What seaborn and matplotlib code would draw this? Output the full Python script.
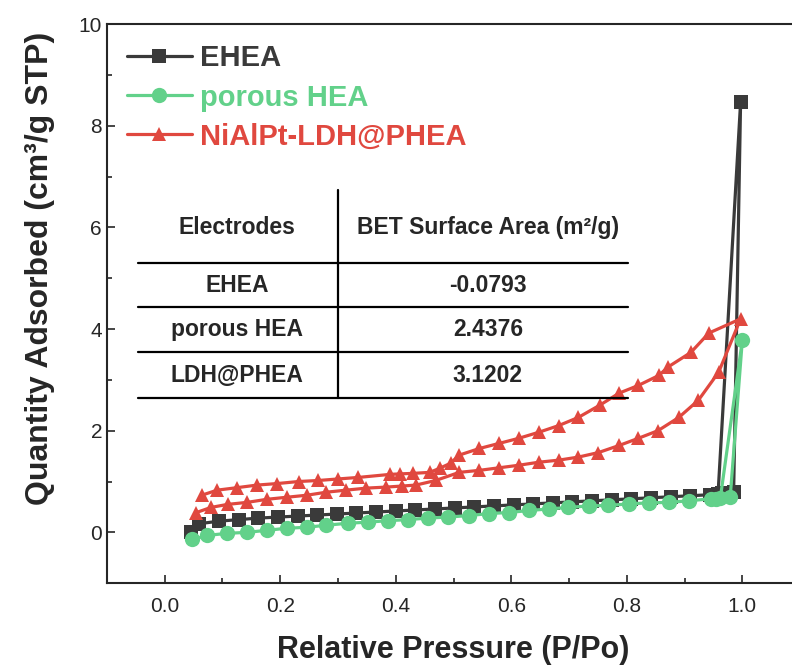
import numpy as np
import pandas as pd
import matplotlib
matplotlib.use("Agg")
import matplotlib.pyplot as plt
from matplotlib.ticker import MultipleLocator
import seaborn as sns

# --- datos ---
ehea_x = [0.045, 0.06, 0.094, 0.128, 0.162, 0.196, 0.23, 0.264, 0.298, 0.332,
          0.366, 0.40, 0.434, 0.468, 0.502, 0.536, 0.57, 0.604, 0.638, 0.672,
          0.706, 0.74, 0.774, 0.808, 0.842, 0.876, 0.91, 0.944, 0.958, 0.997,
          0.985, 0.965]
ehea_y = [0.0, 0.17, 0.22, 0.25, 0.28, 0.30, 0.32, 0.34, 0.36, 0.38,
          0.40, 0.42, 0.44, 0.46, 0.48, 0.50, 0.52, 0.54, 0.56, 0.58,
          0.60, 0.62, 0.64, 0.66, 0.68, 0.70, 0.72, 0.74, 0.76, 8.46,
          0.80, 0.78]

phea_x = [0.048, 0.074, 0.108, 0.143, 0.177, 0.211, 0.246, 0.28, 0.318, 0.352,
          0.387, 0.421, 0.455, 0.49, 0.527, 0.562, 0.596, 0.631, 0.665, 0.699,
          0.734, 0.768, 0.804, 0.838, 0.873, 0.907, 0.945, 0.962, 1.0, 0.979,
          0.955]
phea_y = [-0.14, -0.06, -0.02, 0.0, 0.04, 0.08, 0.10, 0.14, 0.18, 0.20,
          0.23, 0.25, 0.28, 0.30, 0.33, 0.37, 0.39, 0.43, 0.46, 0.49,
          0.52, 0.53, 0.56, 0.58, 0.59, 0.62, 0.66, 0.68, 3.78, 0.69,
          0.66]

ldh_x = [0.055, 0.08, 0.109, 0.143, 0.177, 0.211, 0.246, 0.28, 0.314, 0.349,
         0.383, 0.41, 0.435, 0.469, 0.51, 0.545, 0.579, 0.613, 0.648, 0.682,
         0.716, 0.751, 0.787, 0.820, 0.854, 0.890, 0.924, 0.959, 0.997,
         0.942, 0.911, 0.871, 0.856, 0.820, 0.787, 0.753, 0.716, 0.682, 0.648,
         0.613, 0.579, 0.545, 0.510, 0.495, 0.476, 0.459, 0.43, 0.407, 0.39,
         0.335, 0.30, 0.266, 0.232, 0.195, 0.160, 0.126, 0.091, 0.064]
ldh_y = [0.39, 0.49, 0.55, 0.59, 0.65, 0.69, 0.73, 0.79, 0.83, 0.87,
         0.89, 0.91, 0.93, 1.02, 1.18, 1.22, 1.27, 1.32, 1.38, 1.42,
         1.48, 1.57, 1.71, 1.85, 2.0, 2.26, 2.6, 3.15, 4.2,
         3.92, 3.54, 3.25, 3.09, 2.89, 2.74, 2.50, 2.26, 2.10, 1.97,
         1.85, 1.75, 1.65, 1.52, 1.36, 1.26, 1.18, 1.16, 1.15, 1.14,
         1.08, 1.05, 1.02, 1.0, 0.96, 0.93, 0.88, 0.83, 0.73]

tabla_electrodos = ["EHEA", "porous HEA", "LDH@PHEA"]
tabla_bet = ["-0.0793", "2.4376", "3.1202"]

series = [
    ("EHEA", ehea_x, ehea_y, "#3a3a3a", "s", 10),
    ("porous HEA", phea_x, phea_y, "#62d18a", "o", 11),
    ("NiAlPt-LDH@PHEA", ldh_x, ldh_y, "#e0483f", "^", 10),
]

sns.set_style("ticks")
plt.rcParams["font.family"] = ["Liberation Sans", "DejaVu Sans"]

fig = plt.figure(figsize=(7.92, 6.68), dpi=100)
ax = fig.add_axes([0.135, 0.127, 0.865, 0.837])

for nombre, xs, ys, color, mk, ms in series:
    df = pd.DataFrame({"x": xs, "y": ys})
    sns.lineplot(data=df, x="x", y="y", sort=False, estimator=None, ax=ax,
                 color=color, marker=mk, markersize=ms, markeredgewidth=0,
                 linewidth=2.3, label=nombre)

ax.set_xlim(-0.1, 1.086)
ax.set_ylim(-1, 10)
ax.xaxis.set_major_locator(MultipleLocator(0.2))
ax.xaxis.set_minor_locator(MultipleLocator(0.1))
ax.yaxis.set_major_locator(MultipleLocator(2))
ax.yaxis.set_minor_locator(MultipleLocator(1))
ax.tick_params(which="both", direction="in", width=1.2, labelsize=15)
ax.tick_params(which="major", length=6)
ax.tick_params(which="minor", length=3.5)
ax.tick_params(axis="x", pad=10)
ax.set_xticklabels([f"{v:.1f}" for v in ax.get_xticks()])
for s in ["left", "bottom", "top"]:
    ax.spines[s].set_linewidth(1.5)
ax.spines["right"].set_visible(False)

ax.set_xlabel("Relative Pressure (P/Po)", fontsize=22, fontweight="bold", va="center")
ax.set_ylabel("Quantity Adsorbed (cm³/g STP)", fontsize=23, fontweight="bold", va="center")
ax.xaxis.set_label_coords(0.505, -0.12)
ax.yaxis.set_label_coords(-0.098, 0.563)

leg = ax.legend(loc="upper left", frameon=False, fontsize=21, handlelength=2.2,
                handletextpad=0.3, labelspacing=0.38, borderaxespad=0.3,
                bbox_to_anchor=(0.0, 1.0))
for txt, (_, _, _, color, _, _) in zip(leg.get_texts(), series):
    txt.set_color(color)
    txt.set_fontweight("bold")

# tabla BET
lw = 1.6
tr = ax.transAxes
ax.plot([0.337, 0.337], [0.331, 0.703], color="black", lw=lw, transform=tr)
for yy in [0.572, 0.494, 0.413, 0.331]:
    ax.plot([0.045, 0.761], [yy, yy], color="black", lw=lw, transform=tr)
ax.text(0.190, 0.637, "Electrodes", transform=tr, ha="center", va="center",
        fontsize=16.5, fontweight="bold")
ax.text(0.556, 0.637, "BET Surface Area (m²/g)", transform=tr, ha="center",
        va="center", fontsize=16.5, fontweight="bold")
for yy, e, b in zip([0.533, 0.453, 0.372], tabla_electrodos, tabla_bet):
    ax.text(0.190, yy, e, transform=tr, ha="center", va="center",
            fontsize=16.5, fontweight="bold")
    ax.text(0.556, yy, b, transform=tr, ha="center", va="center",
            fontsize=16.5, fontweight="bold")

fig.savefig("out.png", dpi=100)
